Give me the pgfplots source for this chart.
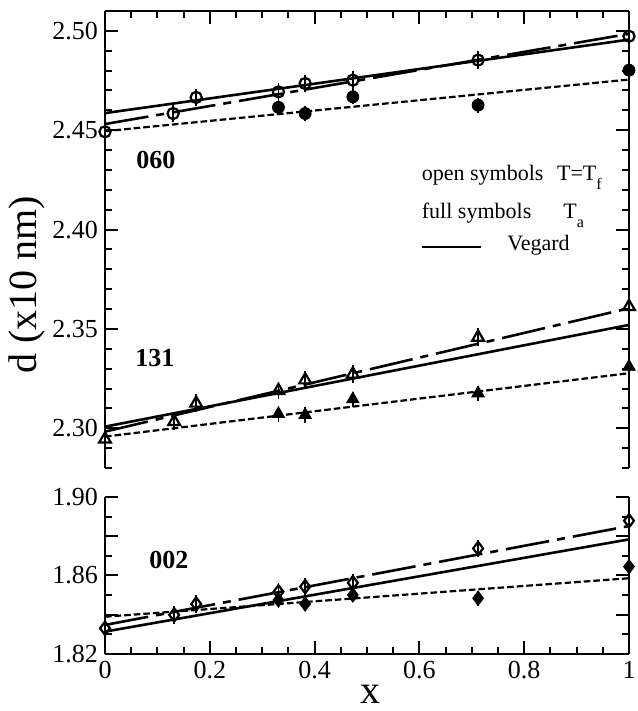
\documentclass[border=0pt]{standalone}
\usepackage{pgfplots}
\pgfplotsset{compat=1.18}
\usepackage{fontspec}
\setmainfont{Liberation Serif}
\pgfplotsset{
  myaxis/.style={
    scale only axis, width=262pt, clip=false,
    xmin=0, xmax=1,
    xtick={0,0.2,0.4,0.6,0.8,1}, minor x tick num=3,
    axis line style={line width=1.2pt, -},
    every tick/.style={line width=1pt, black},
    major tick length=6.5pt, minor tick length=3.3pt,
    tick label style={font=\fontsize{13}{15}\selectfont},
    /pgf/number format/assume math mode=true,
  },
  openm/.style={only marks, black, mark size=2.8pt, mark options={solid, line width=1.1pt},
    error bars/y dir=both, error bars/y fixed=0.0024,
    error bars/error bar style={line width=0.9pt, solid},
    error bars/error mark options={line width=0.9pt, mark size=2pt, solid}},
  fullm/.style={only marks, black, mark size=3pt, mark options={solid, fill=black},
    error bars/y dir=both, error bars/y fixed=0.0018,
    error bars/error bar style={line width=0.9pt, solid},
    error bars/error mark options={line width=0.9pt, mark size=2pt, solid}},
  veg/.style={black, line width=1.3pt, solid, no marks},
  dd/.style={black, line width=1.3pt, no marks, dash pattern=on 22pt off 4pt on 4pt off 4pt},
  dt/.style={black, line width=1.1pt, no marks, dash pattern=on 3.3pt off 1.5pt},
}
\begin{document}
\begin{tikzpicture}[x=1pt,y=1pt]
\begin{axis}[myaxis,
  at={(52.5pt,121.5pt)}, anchor=south west, height=228.5pt,
  ymin=2.28, ymax=2.51,
  axis x line*=top, axis y line*=box,
  xticklabels={},
  ytick={2.30,2.35,2.40,2.45,2.50},
  yticklabels={2.30,2.35,2.40,2.45,2.50},
  minor ytick={2.28,2.29,2.31,2.32,2.33,2.34,2.36,2.37,2.38,2.39,2.41,2.42,2.43,2.44,2.46,2.47,2.48,2.49,2.51},
]
% 060
\addplot[dt] coordinates {(0,2.4495) (1,2.4755)};
\addplot[dd] coordinates {(0,2.4531) (1,2.4985)};
\addplot[veg] coordinates {(0,2.4586) (1,2.4956)};
\addplot[openm, mark=o] coordinates {(0,2.4492) (0.130,2.4584) (0.174,2.4665) (0.331,2.4693) (0.382,2.4735) (0.473,2.4752) (0.712,2.4853) (1,2.4973)};
\addplot[fullm, mark=*] coordinates {(0.331,2.4615) (0.382,2.4584) (0.473,2.4668) (0.712,2.4626) (1,2.4802)};
% 131
\addplot[dt] coordinates {(0,2.2958) (1,2.3277)};
\addplot[dd] coordinates {(0,2.2983) (1,2.3604)};
\addplot[veg] coordinates {(0,2.3008) (1,2.3520)};
\addplot[openm, mark=triangle, mark size=3.4pt] coordinates {(0,2.2945) (0.132,2.3033) (0.174,2.3126) (0.331,2.3189) (0.382,2.3243) (0.473,2.3272) (0.712,2.3458) (1,2.3612)};
\addplot[fullm, mark=triangle*, mark size=3.6pt] coordinates {(0.331,2.3072) (0.382,2.3067) (0.473,2.3146) (0.712,2.3176) (1,2.3310)};
% labels
\node[font=\fontsize{13}{15}\selectfont\bfseries] at (axis cs:0.097,2.435) {060};
\node[font=\fontsize{13}{15}\selectfont\bfseries] at (axis cs:0.095,2.3354) {131};
\node[font=\fontsize{11}{13}\selectfont, anchor=base west, inner sep=0pt] at (axis cs:0.604,2.4246) {open symbols};
\node[font=\fontsize{11}{13}\selectfont, anchor=base west, inner sep=0pt] at (axis cs:0.862,2.4246) {T=T\raisebox{-4.5pt}{\fontsize{8}{9}\selectfont f}};
\node[font=\fontsize{11}{13}\selectfont, anchor=base west, inner sep=0pt] at (axis cs:0.604,2.4056) {full symbols};
\node[font=\fontsize{11}{13}\selectfont, anchor=base west, inner sep=0pt] at (axis cs:0.874,2.4056) {T\raisebox{-4.5pt}{\fontsize{8}{9}\selectfont a}};
\draw[line width=1.3pt] (axis cs:0.604,2.3913) -- (axis cs:0.718,2.3913);
\node[font=\fontsize{11}{13}\selectfont, anchor=base west, inner sep=0pt] at (axis cs:0.767,2.3897) {Vegard};
\end{axis}
\begin{axis}[myaxis,
  at={(52.5pt,28.5pt)}, anchor=south west, height=78.5pt,
  ymin=1.82, ymax=1.90,
  axis x line*=bottom, axis y line*=box,
  xticklabels={0,0.2,0.4,0.6,0.8,1},
  ytick={1.82,1.84,1.86,1.88,1.90},
  yticklabels={1.82,,1.86,,1.90},
  minor ytick={1.83,1.85,1.87,1.89},
]
\addplot[dt] coordinates {(0,1.8390) (1,1.8586)};
\addplot[dd] coordinates {(0,1.8348) (1,1.8852)};
\addplot[veg] coordinates {(0,1.8314) (1,1.8784)};
\addplot[openm, mark=diamond, mark size=3.3pt] coordinates {(0,1.8331) (0.132,1.8399) (0.174,1.8455) (0.331,1.8517) (0.382,1.8543) (0.473,1.8563) (0.712,1.8738) (1,1.8879)};
\addplot[fullm, mark=diamond*, mark size=3.6pt] coordinates {(0.331,1.8475) (0.382,1.8455) (0.473,1.8501) (0.712,1.8484) (1,1.8645)};
\node[font=\fontsize{13}{15}\selectfont\bfseries] at (axis cs:0.122,1.8679) {002};
\end{axis}
\node[rotate=90, font=\fontsize{20}{24}\selectfont] at (13.5,213) {d (x10 nm)};
\node[font=\fontsize{20}{24}\selectfont] at (185,8.5) {x};
\pgfresetboundingbox
\path[use as bounding box] (0,0) rectangle (318.5,355.5);
\end{tikzpicture}
\end{document}
